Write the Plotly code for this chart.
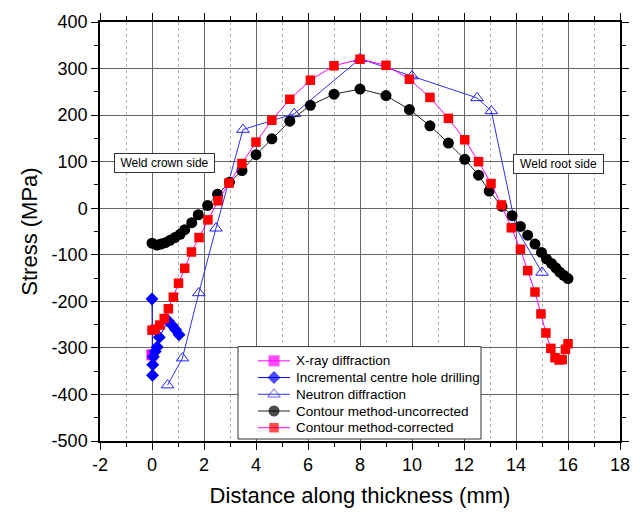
import plotly.graph_objects as go

# ---------------- data ----------------
xray_x = [0.0]
xray_y = [-315]

hole_x = [0.0, 0.02, 0.03, 0.05, 0.12, 0.2, 0.28, 0.63, 0.78, 0.91, 1.04]
hole_y = [-195, -359, -336, -319, -308, -298, -277, -242, -252, -261, -272]

neutron_x = [0.6, 1.17, 1.8, 2.46, 3.5, 5.47, 8.0, 10.0, 12.5, 13.05, 14.0, 15.0]
neutron_y = [-380, -322, -182, -43, 169, 203, 321, 284, 237, 209, -42, -138]

unc_x = [0.0, 0.19, 0.34, 0.51, 0.69, 0.88, 1.08, 1.26, 1.53, 1.78, 2.14, 2.52, 2.98,
         3.46, 4.0, 4.61, 5.3, 6.09, 7.0, 8.0, 9.0, 9.9, 10.69, 11.4, 12.03, 12.56,
         12.97, 13.46, 13.85, 14.17, 14.45, 14.73, 14.98, 15.17, 15.37, 15.53, 15.68,
         15.83, 16.0]
unc_y = [-75, -79, -77, -74, -69, -63, -56, -46, -31, -14, 6, 30, 56,
         81, 115, 149, 187, 221, 245, 256, 242, 212, 177, 140, 105, 71,
         37, 4, -16, -39, -58, -77, -95, -109, -119, -128, -137,
         -144, -151]

corr_x = [0.0, 0.12, 0.3, 0.47, 0.63, 0.82, 1.02, 1.26, 1.52, 1.81, 2.15, 2.54, 2.96,
          3.46, 4.0, 4.61, 5.3, 6.09, 7.0, 8.0, 9.0, 9.9, 10.69, 11.4, 12.03, 12.56,
          13.04, 13.44, 13.82, 14.17, 14.45, 14.73, 14.96, 15.15, 15.34, 15.5, 15.66,
          15.78, 15.9, 16.0]
corr_y = [-262, -260, -251, -237, -216, -191, -161, -129, -94, -63, -25, 16, 54,
          96, 142, 189, 234, 275, 306, 320, 307, 277, 238, 193, 147, 100,
          53, 7, -42, -88, -134, -180, -227, -268, -301, -321, -326,
          -325, -303, -291]

x_ticks = [-2, 0, 2, 4, 6, 8, 10, 12, 14, 16, 18]
y_ticks = [400, 300, 200, 100, 0, -100, -200, -300, -400, -500]

series_names = ["X-ray diffraction", "Incremental centre hole drilling", "Neutron diffraction",
                "Contour method-uncorrected", "Contour method-corrected"]

FONT = "Arial, 'Liberation Sans', sans-serif"

# ---------------- styles ----------------
styles = [
    dict(line=dict(color="#FF00FF", width=1),
         marker=dict(symbol="square", size=11, color="#FF00FF", line=dict(width=0))),
    dict(line=dict(color="#0000FF", width=1),
         marker=dict(symbol="diamond", size=10, color="#0000FF", line=dict(width=0))),
    dict(line=dict(color="#3030FF", width=1),
         marker=dict(symbol="triangle-up-open", size=11, color="#2020FF", line=dict(width=1))),
    dict(line=dict(color="#222222", width=1),
         marker=dict(symbol="circle", size=11, color="#000000", line=dict(width=0))),
    dict(line=dict(color="#FF00FF", width=1),
         marker=dict(symbol="square", size=9.5, color="#FF0000", line=dict(width=0))),
]
data = [(xray_x, xray_y), (hole_x, hole_y), (neutron_x, neutron_y),
        (unc_x, unc_y), (corr_x, corr_y)]

fig = go.Figure()
for (xs, ys), name, st in zip(data, series_names, styles):
    fig.add_trace(go.Scatter(x=xs, y=ys, mode="lines+markers", name=name,
                             showlegend=False, **st))

# ---------------- layout geometry ----------------
W, H = 644, 516
ML, MR, MT, MB = 100, 24, 16, 74
PW, PH = W - ML - MR, H - MT - MB
X_RANGE = [-2, 18]
Y_RANGE = [-500, 400]


def pxx(px):
    return (px - ML) / PW


def pxy(py):
    return (MT + PH - py) / PH


def px_to_x(px):
    return X_RANGE[0] + pxx(px) * (X_RANGE[1] - X_RANGE[0])


def py_to_y(py):
    return Y_RANGE[0] + pxy(py) * (Y_RANGE[1] - Y_RANGE[0])


axis_common = dict(
    showline=True, linecolor="black", linewidth=1.5, mirror="ticks",
    ticks="outside", ticklen=7, tickwidth=1.2, tickcolor="black",
    gridcolor="#666666", gridwidth=1, zeroline=False,
    tickfont=dict(family=FONT, size=18, color="black"),
)

fig.update_xaxes(
    range=X_RANGE, tickvals=x_ticks, ticktext=[str(v) for v in x_ticks],
    title=dict(text="Distance along thickness (mm)", font=dict(family=FONT, size=22, color="black"), standoff=13),
    minor=dict(dtick=1, tick0=-2, ticks="outside", ticklen=4, tickcolor="black",
               showgrid=True, gridcolor="#B0B0B0", griddash="dot", gridwidth=1),
    **axis_common)

fig.update_yaxes(
    range=Y_RANGE, tickvals=y_ticks, ticktext=[str(v) for v in y_ticks],
    title=dict(text="Stress (MPa)", font=dict(family=FONT, size=22, color="black"), standoff=8),
    minor=dict(dtick=50, tick0=0, ticks="outside", ticklen=4, tickcolor="black", showgrid=False),
    **axis_common)

# overlay axes in paper-like units (0..1) for the legend samples
fig.update_layout(
    xaxis2=dict(overlaying="x", range=[0, 1], visible=False, fixedrange=True),
    yaxis2=dict(overlaying="y", range=[0, 1], visible=False, fixedrange=True),
)

# ---------------- legend (custom, to match spacing) ----------------
LEG_L, LEG_R, LEG_T, LEG_B = 238, 481, 346, 440
ROW0, ROW_STEP = 360.5, 17.0
SAMPLE_L, SAMPLE_R, TEXT_X = 258, 290, 294

fig.add_shape(type="rect", xref="x", yref="y", layer="between",
              x0=px_to_x(LEG_L), x1=px_to_x(LEG_R), y0=py_to_y(LEG_B), y1=py_to_y(LEG_T),
              fillcolor="white", line=dict(color="#333333", width=1))

for i, (name, st) in enumerate(zip(series_names, styles)):
    row = pxy(ROW0 + i * ROW_STEP)
    xl, xr = pxx(SAMPLE_L), pxx(SAMPLE_R)
    mk = dict(st["marker"])
    mk["size"] = [0, st["marker"]["size"], 0]
    fig.add_trace(go.Scatter(x=[xl, (xl + xr) / 2, xr], y=[row, row, row],
                             xaxis="x2", yaxis="y2", mode="lines+markers",
                             line=st["line"], marker=mk, showlegend=False,
                             hoverinfo="skip", cliponaxis=False))
    fig.add_annotation(x=pxx(TEXT_X), y=row, xref="paper", yref="paper", text=name,
                       showarrow=False, xanchor="left", yanchor="middle",
                       font=dict(family=FONT, size=13.5, color="black"))

# ---------------- side labels ----------------
fig.add_annotation(x=0.48, y=97, xref="x", yref="y", text="Weld crown side", showarrow=False,
                   font=dict(family=FONT, size=12, color="black"), width=99, height=18,
                   bgcolor="white", bordercolor="#333333", borderwidth=1, borderpad=0)
fig.add_annotation(x=15.63, y=94, xref="x", yref="y", text="Weld root side", showarrow=False,
                   font=dict(family=FONT, size=12, color="black"), width=89, height=18,
                   bgcolor="white", bordercolor="#333333", borderwidth=1, borderpad=0)

fig.update_layout(
    width=W, height=H,
    margin=dict(l=ML, r=MR, t=MT, b=MB),
    paper_bgcolor="white", plot_bgcolor="white",
    font=dict(family=FONT, color="black"),
    showlegend=False,
)

fig.write_html("out.html")
